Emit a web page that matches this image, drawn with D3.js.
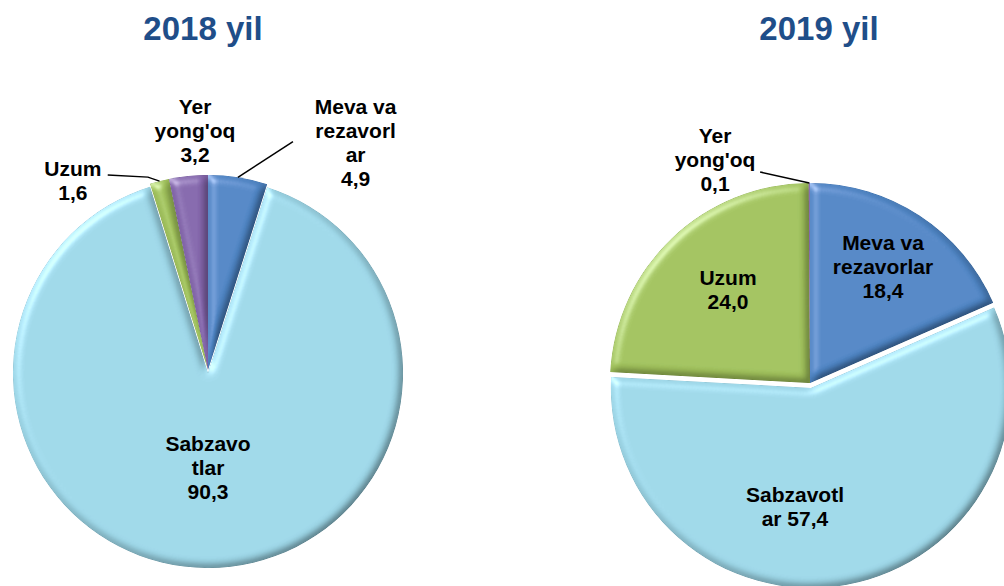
<!DOCTYPE html>
<html><head><meta charset="utf-8">
<script src="https://cdn.jsdelivr.net/npm/d3@7"></script>
<style>
html,body{margin:0;padding:0;background:#fff;}
svg{display:block;font-family:"Liberation Sans",Arial,sans-serif;}
</style></head>
<body>
<svg id="chart" width="1004" height="586"></svg>
<script>
// ---- data ----
const categories = ["Meva va rezavorlar", "Sabzavotlar", "Uzum", "Yer yong'oq"];
const years = ["2018 yil", "2019 yil"];
const values2018 = [4.9, 90.3, 1.6, 3.2];
const values2019 = [18.4, 57.4, 24.0, 0.1];
// label text as wrapped in the picture ({v} = value)
const labels2018 = ["Meva va\nrezavorl\nar\n{v}", "Sabzavo\ntlar\n{v}", "Uzum\n{v}", "Yer\nyong'oq\n{v}"];
const labels2019 = ["Meva va\nrezavorlar\n{v}", "Sabzavotl\nar {v}", "Uzum\n{v}", "Yer\nyong'oq\n{v}"];
const colors = ["#4F86C6", "#9ED8E9", "#A2C35C", "#8466AC"];

// ---- layout (not data) ----
const charts = [
  { title: years[0], values: values2018, labels: labels2018,
    cx: 208, cy: 370, r: 195, titleX: 203,
    explode: [0, 3, 0, 0],
    // label position: [angle deg, radius factor]
    labelPos: [[33, 1.39], [180, 0.5], [324.4, 1.19], [356.9, 1.23]],
    leaders: [ [[20.4, 1.25]], null, [[342.7, 1.036], [332.8, 1.125]], null ] },
  { title: years[1], values: values2019, labels: labels2019,
    cx: 810, cy: 383, r: 200, titleX: 819,
    explode: [0, 5, 0, 0],
    labelPos: [[32.2, 0.685], [186.9, 0.625], [318.6, 0.62], [336.9, 1.21]],
    leaders: [ null, null, null, [[346.7, 1.084]] ] }
];

const svg = d3.select("#chart");
const defs = svg.append("defs");
const f = defs.append("filter").attr("id", "bevel")
  .attr("x", "-10%").attr("y", "-10%").attr("width", "120%").attr("height", "120%");
f.append("feGaussianBlur").attr("in", "SourceAlpha").attr("stdDeviation", 4).attr("result", "blur");
const dl = f.append("feDiffuseLighting").attr("in", "blur").attr("surfaceScale", 5)
  .attr("diffuseConstant", 1).attr("lighting-color", "#ffffff").attr("result", "diff");
dl.append("feDistantLight").attr("azimuth", 225).attr("elevation", 62);
f.append("feComposite").attr("in", "SourceGraphic").attr("in2", "diff")
  .attr("operator", "arithmetic").attr("k1", 1.12).attr("k2", 0).attr("k3", 0).attr("k4", 0).attr("result", "lit");
const sp = f.append("feSpecularLighting").attr("in", "blur").attr("surfaceScale", 5)
  .attr("specularConstant", 0.6).attr("specularExponent", 20).attr("lighting-color", "#ffffff").attr("result", "spec");
sp.append("feDistantLight").attr("azimuth", 225).attr("elevation", 32);
f.append("feComposite").attr("in", "spec").attr("in2", "SourceAlpha").attr("operator", "in").attr("result", "specIn");
f.append("feComposite").attr("in", "lit").attr("in2", "specIn")
  .attr("operator", "arithmetic").attr("k1", 0).attr("k2", 1).attr("k3", 0.5).attr("k4", 0);

const fmt = v => d3.format(".1f")(v).replace(".", ",");
const rad = d => d * Math.PI / 180;
const polar = (c, a, k) => [c.cx + Math.sin(rad(a)) * k * c.r, c.cy - Math.cos(rad(a)) * k * c.r];

charts.forEach(c => {
  const g = svg.append("g");
  const pie = d3.pie().sort(null).value(d => d).startAngle(0).endAngle(2 * Math.PI);
  const arcs = pie(c.values);
  const arc = d3.arc().innerRadius(0).outerRadius(c.r);

  g.append("text").attr("x", c.titleX).attr("y", 40)
    .attr("text-anchor", "middle").attr("font-size", 33).attr("font-weight", "bold")
    .attr("fill", "#1F4E89").text(c.title);

  const pg = g.append("g").attr("transform", `translate(${c.cx},${c.cy})`);
  pg.selectAll("path").data(arcs).join("path")
    .attr("d", arc)
    .attr("transform", (d, i) => {
      const m = (d.startAngle + d.endAngle) / 2, e = c.explode[i];
      return `translate(${Math.sin(m) * e},${-Math.cos(m) * e})`;
    })
    .attr("fill", (d, i) => colors[i])
    .attr("filter", "url(#bevel)");

  // leader lines
  arcs.forEach((d, i) => {
    const L = c.leaders[i];
    if (!L) return;
    const m = (d.startAngle + d.endAngle) / 2 * 180 / Math.PI;
    const pts = [polar(c, m, 1.0)].concat(L.map(p => polar(c, p[0], p[1])));
    g.append("path").attr("d", d3.line()(pts))
      .attr("fill", "none").attr("stroke", "#000").attr("stroke-width", 1.5);
  });

  // labels
  arcs.forEach((d, i) => {
    const [x, y] = polar(c, c.labelPos[i][0], c.labelPos[i][1]);
    const lines = c.labels[i].replace("{v}", fmt(c.values[i])).split("\n");
    const lh = 24;
    const t = g.append("text").attr("text-anchor", "middle")
      .attr("font-size", 21).attr("font-weight", "bold").attr("fill", "#000");
    lines.forEach((ln, j) => {
      t.append("tspan").attr("x", x)
        .attr("y", y - (lines.length - 1) * lh / 2 + j * lh + 7).text(ln);
    });
  });
});
</script>
</body></html>
